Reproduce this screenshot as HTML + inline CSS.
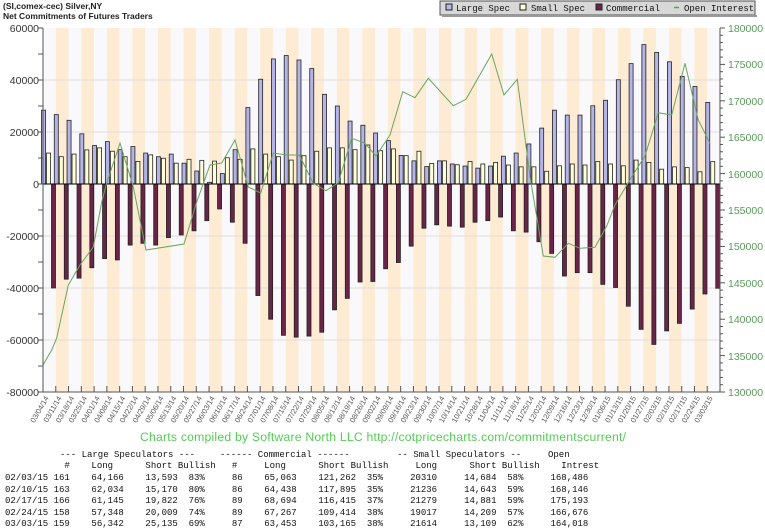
<!DOCTYPE html>
<html><head><meta charset="utf-8">
<style>
html,body{margin:0;padding:0;background:#fff;}
body{width:765px;height:527px;position:relative;overflow:hidden;font-family:"Liberation Sans",sans-serif;}
.t{position:absolute;white-space:pre;font-family:"Liberation Mono",monospace;font-size:9px;color:#111;line-height:11px;}
</style></head><body>
<svg id="s" width="765" height="527" style="position:absolute;left:0;top:0" xmlns="http://www.w3.org/2000/svg">
<g id="stripes"></g>
<g stroke="#e2ddd8" stroke-width="1">
<line x1="43" x2="720" y1="80" y2="80"/><line x1="43" x2="720" y1="132" y2="132"/>
<line x1="43" x2="720" y1="236" y2="236"/><line x1="43" x2="720" y1="288" y2="288"/>
<line x1="43" x2="720" y1="340" y2="340"/>
</g>
<g id="bars"></g>
<line x1="43" x2="720" y1="184" y2="184" stroke="#000" stroke-width="1"/>
<polyline fill="none" stroke="#6aa55f" stroke-width="1" points="43,365 51.7,350 56.7,338 68.3,285 80,265 93.3,247 101.7,202 106.7,183 120,143 133.3,187 146,250 184,244 196.7,202 210,165 221.7,163 235,140 248.3,187 260.7,193 273.3,153 286.7,155 299.3,155 313.3,183.3 326,190.7 338.3,182.7 351.7,138.3 365,143.3 376,156 390,135 402.7,91.7 415,97.7 428.3,78.3 453.3,105.7 466,99.3 491.7,54 504,95 517.3,79.3 530,176.7 543.3,256 555,257.3 568.3,243.3 580,248.3 595,247.3 606.7,226 615,205 631.7,176.7 645,156 658.3,112.7 671.7,115 685,63.3 698.3,120 710,143.3"/>
<g id="axes" stroke="#555" stroke-width="1"></g>
<g font-family="Liberation Sans,sans-serif" font-size="10.5" fill="#333" text-anchor="end">
<text x="39" y="32">60000</text><text x="39" y="84">40000</text><text x="39" y="136">20000</text>
<text x="39" y="188">0</text><text x="39" y="240">-20000</text><text x="39" y="292">-40000</text>
<text x="39" y="344">-60000</text><text x="39" y="396">-80000</text>
</g>
<g font-family="Liberation Sans,sans-serif" font-size="10.5" fill="#5a9a5a">
<text x="728" y="32">180000</text><text x="728" y="68">175000</text><text x="728" y="105">170000</text>
<text x="728" y="141">165000</text><text x="728" y="178">160000</text><text x="728" y="214">155000</text>
<text x="728" y="250">150000</text><text x="728" y="287">145000</text><text x="728" y="323">140000</text>
<text x="728" y="360">135000</text><text x="728" y="396">130000</text>
</g>
<g font-family="Liberation Sans,sans-serif" font-size="7.5" fill="#555" text-anchor="end">
<text transform="translate(49,398) rotate(-60)">03/04/14</text>
<text transform="translate(61.8,398) rotate(-60)">03/11/14</text>
<text transform="translate(74.5,398) rotate(-60)">03/18/14</text>
<text transform="translate(87.3,398) rotate(-60)">03/25/14</text>
<text transform="translate(100.1,398) rotate(-60)">04/01/14</text>
<text transform="translate(112.9,398) rotate(-60)">04/08/14</text>
<text transform="translate(125.6,398) rotate(-60)">04/15/14</text>
<text transform="translate(138.4,398) rotate(-60)">04/22/14</text>
<text transform="translate(151.2,398) rotate(-60)">04/29/14</text>
<text transform="translate(163.9,398) rotate(-60)">05/06/14</text>
<text transform="translate(176.7,398) rotate(-60)">05/13/14</text>
<text transform="translate(189.5,398) rotate(-60)">05/20/14</text>
<text transform="translate(202.2,398) rotate(-60)">05/27/14</text>
<text transform="translate(215,398) rotate(-60)">06/03/14</text>
<text transform="translate(227.8,398) rotate(-60)">06/10/14</text>
<text transform="translate(240.6,398) rotate(-60)">06/17/14</text>
<text transform="translate(253.3,398) rotate(-60)">06/24/14</text>
<text transform="translate(266.1,398) rotate(-60)">07/01/14</text>
<text transform="translate(278.9,398) rotate(-60)">07/08/14</text>
<text transform="translate(291.6,398) rotate(-60)">07/15/14</text>
<text transform="translate(304.4,398) rotate(-60)">07/22/14</text>
<text transform="translate(317.2,398) rotate(-60)">07/29/14</text>
<text transform="translate(329.9,398) rotate(-60)">08/05/14</text>
<text transform="translate(342.7,398) rotate(-60)">08/12/14</text>
<text transform="translate(355.5,398) rotate(-60)">08/19/14</text>
<text transform="translate(368.3,398) rotate(-60)">08/26/14</text>
<text transform="translate(381,398) rotate(-60)">09/02/14</text>
<text transform="translate(393.8,398) rotate(-60)">09/09/14</text>
<text transform="translate(406.6,398) rotate(-60)">09/16/14</text>
<text transform="translate(419.3,398) rotate(-60)">09/23/14</text>
<text transform="translate(432.1,398) rotate(-60)">09/30/14</text>
<text transform="translate(444.9,398) rotate(-60)">10/07/14</text>
<text transform="translate(457.6,398) rotate(-60)">10/14/14</text>
<text transform="translate(470.4,398) rotate(-60)">10/21/14</text>
<text transform="translate(483.2,398) rotate(-60)">10/28/14</text>
<text transform="translate(496,398) rotate(-60)">11/04/14</text>
<text transform="translate(508.7,398) rotate(-60)">11/11/14</text>
<text transform="translate(521.5,398) rotate(-60)">11/18/14</text>
<text transform="translate(534.3,398) rotate(-60)">11/25/14</text>
<text transform="translate(547,398) rotate(-60)">12/02/14</text>
<text transform="translate(559.8,398) rotate(-60)">12/09/14</text>
<text transform="translate(572.6,398) rotate(-60)">12/16/14</text>
<text transform="translate(585.3,398) rotate(-60)">12/23/14</text>
<text transform="translate(598.1,398) rotate(-60)">12/30/14</text>
<text transform="translate(610.9,398) rotate(-60)">01/06/15</text>
<text transform="translate(623.7,398) rotate(-60)">01/13/15</text>
<text transform="translate(636.4,398) rotate(-60)">01/20/15</text>
<text transform="translate(649.2,398) rotate(-60)">01/27/15</text>
<text transform="translate(662,398) rotate(-60)">02/03/15</text>
<text transform="translate(674.7,398) rotate(-60)">02/10/15</text>
<text transform="translate(687.5,398) rotate(-60)">02/17/15</text>
<text transform="translate(700.3,398) rotate(-60)">02/24/15</text>
<text transform="translate(713,398) rotate(-60)">03/03/15</text>
</g>
<text x="3" y="9" font-family="Liberation Sans,sans-serif" font-size="8.5" font-weight="bold" fill="#222">(SI,comex-cec) Silver,NY</text>
<text x="3" y="19" font-family="Liberation Sans,sans-serif" font-size="8.5" font-weight="bold" fill="#222">Net Commitments of Futures Traders</text>
<rect x="440" y="1" width="315" height="14" fill="#d8d8d8" stroke="#555"/>
<rect x="442" y="15" width="315" height="2" fill="#999"/>
<rect x="446" y="4" width="6" height="6" fill="#b8b8e8" stroke="#222"/>
<rect x="520" y="4" width="6" height="6" fill="#ffffd8" stroke="#222"/>
<rect x="596" y="4" width="6" height="6" fill="#6a2448" stroke="#222"/>
<line x1="674" x2="679" y1="7.5" y2="7.5" stroke="#5a9a5a" stroke-width="1.5"/>
<g font-family="Liberation Mono,monospace" font-size="9" fill="#111">
<text x="456" y="11">Large Spec</text><text x="531" y="11">Small Spec</text>
<text x="606" y="11">Commercial</text><text x="684" y="11">Open Interest</text>
</g>
<text x="140" y="441" font-family="Liberation Sans,sans-serif" font-size="12.2" fill="#55cc55" textLength="486">Charts compiled by Software North LLC  http://cotpricecharts.com/commitmentscurrent/</text>
</svg>
<div class="t" style="left:60px;top:450px">--- Large Speculators ---</div>
<div class="t" style="left:220px;top:450px">------ Commercial ------</div>
<div class="t" style="left:397px;top:450px">-- Small Speculators --</div>
<div class="t" style="left:548px;top:450px">Open</div>
<div class="t" style="left:5px;top:461px">           #    Long      Short Bullish   #     Long      Short Bullish     Long      Short Bullish    Intrest</div>
<div class="t" style="left:5px;top:473px">02/03/15 161    64,166    13,593  83%     86    65,063    121,262  35%     20310     14,684  58%     168,486</div>
<div class="t" style="left:5px;top:484.5px">02/10/15 163    62,034    15,170  80%     86    64,438    117,895  35%     21236     14,643  59%     168,146</div>
<div class="t" style="left:5px;top:496px">02/17/15 166    61,145    19,822  76%     89    68,694    116,415  37%     21279     14,881  59%     175,193</div>
<div class="t" style="left:5px;top:507.5px">02/24/15 158    57,348    20,009  74%     89    67,267    109,414  38%     19017     14,209  57%     166,676</div>
<div class="t" style="left:5px;top:519px">03/03/15 159    56,342    25,135  69%     87    63,453    103,165  38%     21614     13,109  62%     164,018</div>
<script>
(function(){
var NS="http://www.w3.org/2000/svg";
function el(p,t,a){var e=document.createElementNS(NS,t);for(var k in a)e.setAttribute(k,a[k]);p.appendChild(e);return e;}
var L=[28400,26700,24500,19300,14800,16300,13200,14400,11900,10500,11500,8000,5000,650,4000,13200,29400,40300,48100,49400,47700,44400,34500,30000,24200,22600,19600,16700,11000,8900,6700,8900,7700,6900,6100,6900,10700,11900,15400,21500,28400,26500,26500,30100,32200,40100,46300,53600,50600,47000,41400,37500,31400];
var S=[11900,10500,11500,13100,13900,12600,10500,8700,11200,9900,8000,9500,9100,8800,10100,9500,13500,11500,10500,9200,10900,12600,13900,13900,13200,15000,12800,13500,10900,12600,7900,8900,7400,8700,7700,8300,7300,6600,6600,4900,7000,7700,7300,8600,7700,7000,9200,8300,5700,6600,6300,4700,8600];
var C=[-40000,-36600,-36200,-32200,-28700,-29200,-23500,-22800,-23500,-20600,-19600,-18000,-14100,-9600,-14700,-22800,-42900,-52000,-58200,-58900,-58500,-57000,-48400,-44000,-37700,-37500,-32600,-30200,-23900,-17000,-15700,-16200,-16600,-14700,-14100,-12700,-18000,-18500,-22200,-26700,-35400,-34100,-34100,-38600,-39800,-47000,-55900,-61700,-56500,-53600,-48100,-42300,-40100];
var st=document.getElementById('stripes'),b=document.getElementById('bars'),ax=document.getElementById('axes');
var P=12.774,X0=43,Z=184,K=0.0026;
for(var k=0;k<53;k++){var x=X0+P*k;el(st,'rect',{x:x,y:28,width:P,height:364,fill:(k%2?'#fdebd3':'#f9f9fb')});}
function bar(cx,v,f){var h=Math.abs(v)*K;var y=v>=0?Z-h:Z;el(b,'rect',{x:cx-2,y:y,width:4,height:h,fill:f,stroke:'#222','stroke-width':0.8});}
for(var k=0;k<53;k++){var x=X0+P*k;bar(x+0.5,L[k],'#b4b4e6');bar(x+5.5,S[k],'#ffffd8');bar(x+10.5,C[k],'#6a2448');}
el(ax,'line',{x1:43,x2:43,y1:28,y2:392});
el(ax,'line',{x1:43,x2:720,y1:392,y2:392});
el(ax,'line',{x1:720,x2:720,y1:28,y2:392});
for(var k=0;k<=53;k++){var x=X0+P*k;el(ax,'line',{x1:x,x2:x,y1:392,y2:386});}
for(var v=-80000;v<=60000;v+=10000){var y=Z-v*K;el(ax,'line',{x1:38,x2:43,y1:y,y2:y});}
for(var i=0;i<=50;i++){var y=28+i*7.28;el(ax,'line',{x1:720,x2:(i%5?723:725),y1:y,y2:y});}
})();
</script>
</body></html>
